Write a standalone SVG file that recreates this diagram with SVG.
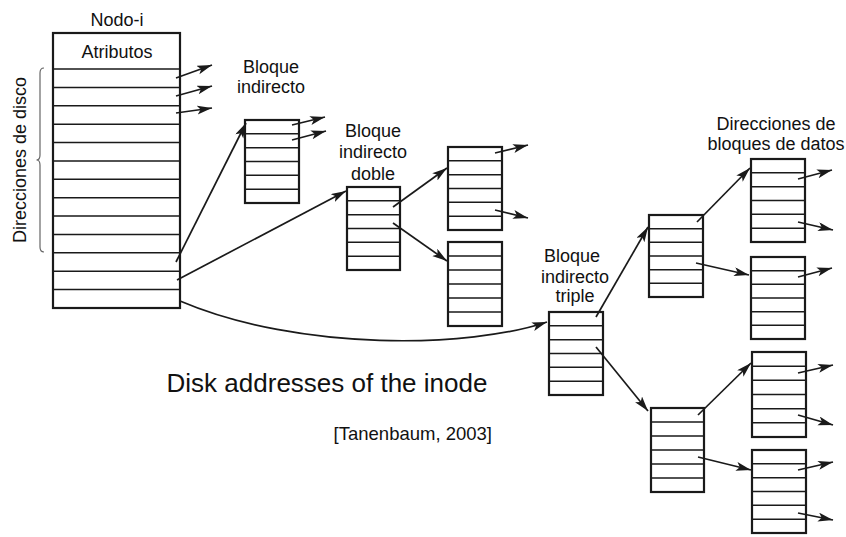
<svg xmlns="http://www.w3.org/2000/svg" width="846" height="537" viewBox="0 0 846 537">
<style>
.box{fill:#fff;stroke:#1a1a1a;stroke-width:2.2}
.row{stroke:#1a1a1a;stroke-width:1.5;fill:none}
.lbl{font-family:"Liberation Sans",Arial,sans-serif;font-size:18px;fill:#111;text-anchor:middle}
.con{stroke:#1a1a1a;stroke-width:1.7;fill:none;marker-end:url(#ah)}
.brace{stroke:#666;stroke-width:1.2;fill:none}
</style>
<defs>
<marker id="ah" markerUnits="userSpaceOnUse" markerWidth="18" markerHeight="12" refX="15" refY="4.5" orient="auto">
<path d="M0,0 L15,4.5 L0,9 L3.5,4.5 z" fill="#1a1a1a"/>
</marker>
</defs>
<rect width="846" height="537" fill="#fff"/>

<g id="inode">
<text class="lbl" x="117" y="26">Nodo-i</text>
<rect class="box" x="53" y="33" width="127" height="275"/>
<text class="lbl" x="117" y="58">Atributos</text>
<path class="row" d="M53,69H180M53,87.4H180M53,105.8H180M53,124.2H180M53,142.5H180M53,160.9H180M53,179.3H180M53,197.7H180M53,216.1H180M53,234.5H180M53,252.8H180M53,271.2H180M53,289.6H180"/>
</g>

<g id="disk-addresses-label">
<path class="brace" d="M44,68 Q40,68 40,73 L40,155 Q40,160 36.5,160 Q40,160 40,165 L40,247 Q40,252 44,252"/>
<text class="lbl" transform="translate(26,160) rotate(-90)">Direcciones de disco</text>
</g>

<g id="single-indirect">
<text class="lbl" x="271" y="73">Bloque</text>
<text class="lbl" x="271" y="93">indirecto</text>
<rect class="box" x="245" y="120" width="54" height="83"/>
<path class="row" d="M245,133.8H299M245,147.7H299M245,161.5H299M245,175.3H299M245,189.2H299"/>
</g>

<g id="double-indirect">
<text class="lbl" x="373" y="137">Bloque</text>
<text class="lbl" x="373" y="158">indirecto</text>
<text class="lbl" x="373" y="180">doble</text>
<rect class="box" x="347" y="187" width="53" height="83"/>
<path class="row" d="M347,200.8H400M347,214.7H400M347,228.5H400M347,242.3H400M347,256.2H400"/>
</g>

<g id="block-a">
<rect class="box" x="448" y="147" width="54" height="83"/>
<path class="row" d="M448,160.8H502M448,174.7H502M448,188.5H502M448,202.3H502M448,216.2H502"/>
</g>

<g id="block-b">
<rect class="box" x="448" y="242" width="54" height="84"/>
<path class="row" d="M448,256H502M448,270H502M448,284H502M448,298H502M448,312H502"/>
</g>

<g id="triple-indirect">
<text class="lbl" x="572" y="262">Bloque</text>
<text class="lbl" x="575" y="283">indirecto</text>
<text class="lbl" x="575" y="302">triple</text>
<rect class="box" x="549" y="312" width="54" height="83"/>
<path class="row" d="M549,325.8H603M549,339.7H603M549,353.5H603M549,367.3H603M549,381.2H603"/>
</g>

<g id="block-c">
<rect class="box" x="649" y="215" width="54" height="82"/>
<path class="row" d="M649,228.7H703M649,242.3H703M649,256H703M649,269.7H703M649,283.3H703"/>
</g>

<g id="block-f">
<rect class="box" x="651" y="408" width="53" height="84"/>
<path class="row" d="M651,422H704M651,436H704M651,450H704M651,464H704M651,478H704"/>
</g>

<g id="data-label">
<text class="lbl" x="776" y="130">Direcciones de</text>
<text class="lbl" x="776" y="150">bloques de datos</text>
</g>

<g id="block-d">
<rect class="box" x="751" y="159" width="54" height="83"/>
<path class="row" d="M751,172.8H805M751,186.7H805M751,200.5H805M751,214.3H805M751,228.2H805"/>
</g>

<g id="block-e">
<rect class="box" x="751" y="257" width="54" height="82"/>
<path class="row" d="M751,270.7H805M751,284.3H805M751,298H805M751,311.7H805M751,325.3H805"/>
</g>

<g id="block-g">
<rect class="box" x="752" y="352" width="54" height="85"/>
<path class="row" d="M752,366.2H806M752,380.3H806M752,394.5H806M752,408.7H806M752,422.8H806"/>
</g>

<g id="block-h">
<rect class="box" x="752" y="450" width="54" height="83"/>
<path class="row" d="M752,463.8H806M752,477.7H806M752,491.5H806M752,505.3H806M752,519.2H806"/>
</g>

<g id="caption">
<text x="327" y="392" style="font-family:'Liberation Sans',Arial,sans-serif;font-size:26px;fill:#111;text-anchor:middle">Disk addresses of the inode</text>
<text x="492" y="440" style="font-family:'Liberation Sans',Arial,sans-serif;font-size:18.5px;fill:#111;text-anchor:end">[Tanenbaum, 2003]</text>
</g>

<g id="connectors">
<line class="con" x1="176" y1="78" x2="212" y2="65"/>
<line class="con" x1="176" y1="96" x2="212" y2="86"/>
<line class="con" x1="176" y1="113" x2="212" y2="108"/>
<line class="con" x1="176" y1="262" x2="246" y2="123"/>
<line class="con" x1="177" y1="280" x2="346" y2="191"/>
<path class="con" d="M180,301 C300,352 470,348 547,322"/>
<line class="con" x1="292" y1="125" x2="325" y2="117"/>
<line class="con" x1="292" y1="140" x2="326" y2="131"/>
<line class="con" x1="393" y1="207" x2="447" y2="168"/>
<line class="con" x1="393" y1="223" x2="447" y2="261"/>
<line class="con" x1="495" y1="153" x2="528" y2="145"/>
<line class="con" x1="495" y1="210" x2="528" y2="218"/>
<line class="con" x1="596" y1="317" x2="648" y2="227"/>
<line class="con" x1="596" y1="347" x2="648" y2="411"/>
<line class="con" x1="697" y1="222" x2="750" y2="168"/>
<line class="con" x1="696" y1="263" x2="749" y2="275"/>
<line class="con" x1="698" y1="415" x2="751" y2="363"/>
<line class="con" x1="698" y1="457" x2="751" y2="470"/>
<line class="con" x1="798" y1="179" x2="832" y2="170"/>
<line class="con" x1="798" y1="222" x2="833" y2="230"/>
<line class="con" x1="798" y1="277" x2="832" y2="268"/>
<line class="con" x1="798" y1="373" x2="833" y2="365"/>
<line class="con" x1="798" y1="415" x2="833" y2="425"/>
<line class="con" x1="798" y1="470" x2="833" y2="462"/>
<line class="con" x1="798" y1="513" x2="833" y2="520"/>
</g>
</svg>
